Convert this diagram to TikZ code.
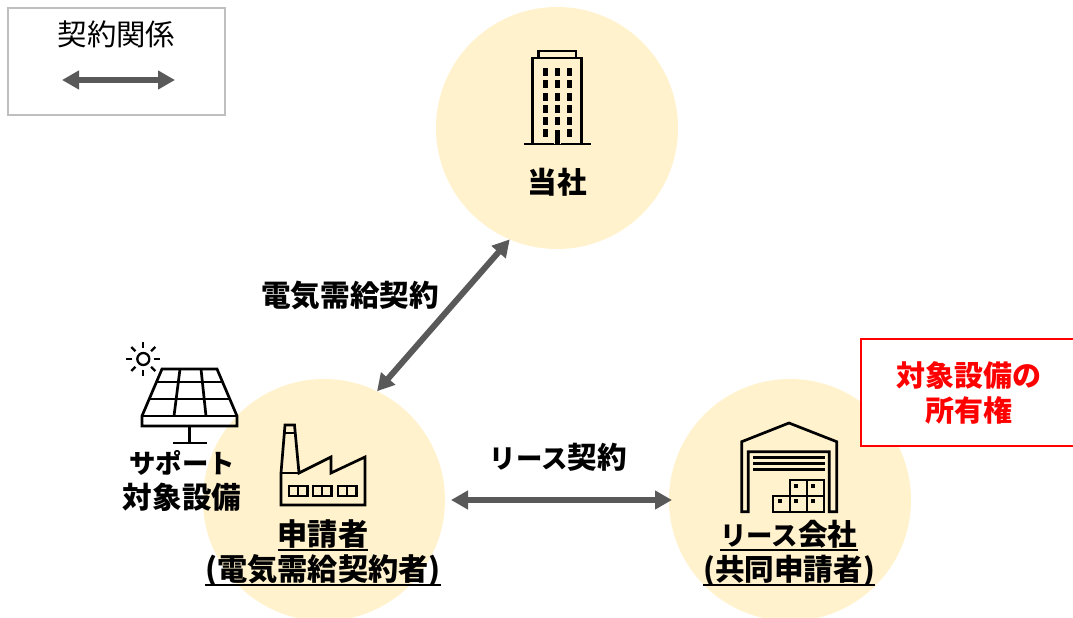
\documentclass[tikz,border=0pt]{standalone}
\usepackage{fontspec}
\setmainfont{Noto Sans CJK JP}
\usetikzlibrary{arrows.meta,positioning}
\definecolor{party}{HTML}{FFF2CC}
\definecolor{contract}{HTML}{595959}
\newcommand{\kana}[1]{{\fontsize{26.4}{35}\selectfont #1}}
\newcommand{\ruled}[1]{\setbox0\hbox{#1}\rlap{\rule[-6pt]{\wd0}{2pt}}\box0}
\tikzset{
  party circle/.style={
    circle,
    fill=party,
    minimum size=242pt,
    inner sep=0pt,
    outer sep=0pt,
  },
  contract arrow/.style={
    draw=contract,
    line width=6pt,
    {Triangle[length=17pt,width=18pt]}-{Triangle[length=17pt,width=18pt]},
  },
  bold label/.style={
    font=\fontsize{29.6}{35}\selectfont\bfseries,
    align=center,
    inner sep=0pt,
  },
  icon/.style={
    draw=black,
    line width=2.7pt,
    line join=miter,
  },
}

\begin{document}
\begin{tikzpicture}[x=1pt,y=-1pt]
        \useasboundingbox (0,0) rectangle (1073,618);

        \node [party circle] (company) at (557,128) {};
        \node [party circle] (applicant) at (324,500) {};
        \node [party circle] (lessor) at (790,500) {};

        % legend
        \node [draw=black!25, line width=1.5pt, minimum width=217pt, minimum height=107pt, inner sep=0pt] (legend) at (116.5,61.5) {};
        \node [font=\fontsize{29.4}{35}\selectfont, inner sep=0pt] (legend title) at (116.5,34) {契約関係};
        \coordinate (legend left) at (62,80);
        \coordinate (legend right) at (175,80);
        \draw [contract arrow] (legend left) -- (legend right);

        % contracts
        \draw [contract arrow] (company.247) -- (applicant.64);
        \draw [contract arrow, shorten <=6pt, shorten >=-3pt] (applicant) -- (lessor);
        \node [bold label] (power contract) at (350,295) {電気需給契約};
        \node [bold label] (lease contract) at (558.5,457) {\kana{リース}契約};

        % labels
        \node [bold label] (company label) at (557,182) {当社};
        \node [bold label, font=\fontsize{30.2}{35}\selectfont\bfseries] (applicant label) at (323,553) {\ruled{申請者}\\\ruled{(電気需給契約者)}};
        \node [bold label] (lessor label) at (789,553) {\ruled{\kana{リース}会社}\\\ruled{(共同申請者)}};
        \node [bold label] (equipment label) at (182,481) {\kana{サポート}\\対象設備};

        % ownership
        \node [draw=red, fill=white, line width=1.5pt, minimum width=215pt, minimum height=107pt, text=red, bold label, font=\fontsize{29}{35}\selectfont\bfseries] (ownership) at (968.5,392.5) {\raisebox{-1pt}{対象設備の}\\\raisebox{-1pt}{所有権}};

        % building
        \draw [icon] (538.5,58) -- (538.5,51) -- (576,51) -- (576,58);
        \draw [icon] (532.5,144) -- (532.5,58) -- (581.5,58) -- (581.5,144);
        \draw [icon] (523.5,144) -- (590.5,144);
        \foreach \wy in {72,84,97,109,121,133}
          \foreach \wx in {545.5,557.5,569.5}
            \fill (\wx-2.5,\wy-4) rectangle (\wx+2.5,\wy+4);
        \fill [party] (554,128) rectangle (561,144);
        \fill (555,130) rectangle (559.5,144);

        % factory
        \draw [icon] (281,473) -- (285,425) -- (294.5,425) -- (299,473) -- (331,457) -- (331,473) -- (365,457) -- (365,505) -- (281,505) -- cycle;
        \draw [icon] (284.3,433) -- (295.2,433);
        \draw [icon, shorten >=-1pt] (281,473) -- (299,473);
        \foreach \wx in {289,313,338} {
          \draw [icon, line width=2.3pt] (\wx,486) rectangle ++(18.5,10);
          \draw [icon, line width=2.3pt] (\wx+9.25,486) -- (\wx+9.25,496);
        }

        % solar panel
        \draw [icon] (162,369) -- (217,369) -- (237,416) -- (237,426) -- (142,426) -- (142,416) -- cycle;
        \draw [icon] (142,416) -- (237,416);
        \draw [icon] (156.5,382) -- (222.5,382);
        \draw [icon] (149.2,399) -- (229.8,399);
        \draw [icon] (180,369) -- (174,416);
        \draw [icon] (201,369) -- (206,416);
        \draw [icon] (189.5,426) -- (189.5,443);
        \draw [icon] (173,443) -- (207,443);

        % sun
        \draw [icon, line width=2.3pt] (143.3,359) circle [radius=6];
        \foreach \ang in {0,45,...,315}
          \draw [icon, line width=2.3pt] (143.3,359) ++(\ang:11) -- ++(\ang:6);

        % warehouse
        \draw [icon] (741.7,511.7) -- (741.7,441.7) -- (789,423) -- (836.7,441.7) -- (836.7,511.7) -- (829.3,511.7) -- (829.3,451.7) -- (748.3,451.7) -- (748.3,511.7) -- cycle;
        \foreach \sy in {457.7,463.3,469.3}
          \draw [icon, line width=3pt] (753.3,\sy) -- (825,\sy);
        \draw [icon, line width=2.3pt] (773.3,495.7) rectangle (790,511.7);
        \draw [icon, line width=2.3pt] (790,495.7) rectangle (807.3,511.7);
        \draw [icon, line width=2.3pt] (807.3,495.7) rectangle (824,511.7);
        \draw [icon, line width=2.3pt] (790,480) rectangle (807.3,495.7);
        \draw [icon, line width=2.3pt] (807.3,480) rectangle (824,495.7);
        \foreach \bx/\by in {780/501,796/501,813/501,796/485.7,813/485.7}
          \fill (\bx-1.8,\by-1.8) rectangle (\bx+1.8,\by+1.8);
      \end{tikzpicture}
\end{document}
